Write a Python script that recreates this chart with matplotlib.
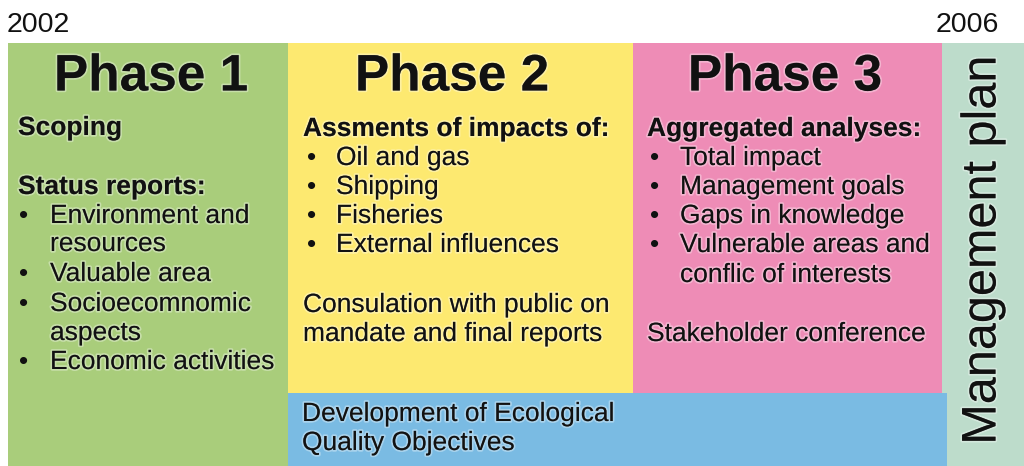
import matplotlib
matplotlib.use("Agg")
import matplotlib.pyplot as plt
from matplotlib.patches import Rectangle
import matplotlib.patheffects as pe

plt.rcParams['font.family'] = ['Liberation Sans', 'DejaVu Sans']

# ---- content ----
years = ["2002", "2006"]
phase_titles = ["Phase 1", "Phase 2", "Phase 3"]
phase_colors = ["#a9cd7b", "#fde970", "#ee8cb6"]
blue_color = "#7abbe3"
mgmt_color = "#bddccb"

phase1_lines = [("Scoping", "bold", False),
                ("Status reports:", "bold", False),
                ("Environment and", "normal", True), ("resources", "normal", "cont"),
                ("Valuable area", "normal", True),
                ("Socioecomnomic", "normal", True), ("aspects", "normal", "cont"),
                ("Economic activities", "normal", True)]
phase2_lines = [("Assments of impacts of:", "bold", False),
                ("Oil and gas", "normal", True), ("Shipping", "normal", True),
                ("Fisheries", "normal", True), ("External influences", "normal", True),
                ("Consulation with public on", "normal", False),
                ("mandate and final reports", "normal", False)]
phase3_lines = [("Aggregated analyses:", "bold", False),
                ("Total impact", "normal", True), ("Management goals", "normal", True),
                ("Gaps in knowledge", "normal", True),
                ("Vulnerable areas and", "normal", True),
                ("conflic of interests", "normal", "cont"),
                ("Stakeholder conference", "normal", False)]
blue_lines = ["Development of Ecological", "Quality Objectives"]
mgmt_label = "Management plan"

W, H = 1024, 466
fig = plt.figure(figsize=(W / 100, H / 100), dpi=100)
ax = fig.add_axes([0, 0, 1, 1])
ax.set_xlim(0, W)
ax.set_ylim(H, 0)
ax.axis("off")

INK = "#111111"
glow = [pe.withStroke(linewidth=2.5, foreground=(1, 1, 1, 0.35))]

# boxes
top = 43
ax.add_patch(Rectangle((8, top), 280, H - top, color=phase_colors[0], lw=0))
ax.add_patch(Rectangle((288, top), 345, 393 - top, color=phase_colors[1], lw=0))
ax.add_patch(Rectangle((633, top), 309, 393 - top, color=phase_colors[2], lw=0))
ax.add_patch(Rectangle((942, top), W - 942, H - top, color=mgmt_color, lw=0))
ax.add_patch(Rectangle((288, 393), 659, H - 393, color=blue_color, lw=0))

# years
ax.text(7, 25, years[0], fontsize=20.5, va="center", ha="left", color=INK)
ax.text(999, 25, years[1], fontsize=20.5, va="center", ha="right", color=INK)

# phase titles
for cx, t in zip([151, 452, 785], phase_titles):
    ax.text(cx, 77, t, fontsize=37, fontweight="bold", ha="center", va="center",
            color=INK, path_effects=glow)


def draw_block(lines, ys, x_head, x_bullet, x_text):
    for (txt, weight, kind), y in zip(lines, ys):
        if kind is True:
            ax.text(x_bullet, y, "•", fontsize=19, ha="left", va="center", color=INK)
            x = x_text
        elif kind == "cont":
            x = x_text
        else:
            x = x_head
        ax.text(x, y, txt, fontsize=19, fontweight=weight, ha="left",
                va="center", color=INK, path_effects=glow)


draw_block(phase1_lines, [128, 187, 216, 244, 274, 304, 333, 362], 18, 19, 50)
draw_block(phase2_lines, [129, 158, 187, 216, 245, 305, 334], 303, 307, 336)
draw_block(phase3_lines, [129, 158, 187, 216, 245, 275, 334], 647, 650, 680)

# Blue
for txt, y in zip(blue_lines, [414, 443]):
    ax.text(302, y, txt, fontsize=19, ha="left", va="center", color=INK, path_effects=glow)

# Management plan
ax.text(983, 250, mgmt_label, fontsize=35, rotation=90, ha="center", va="center",
        color=INK, path_effects=glow)

fig.savefig("out.png", dpi=100)
